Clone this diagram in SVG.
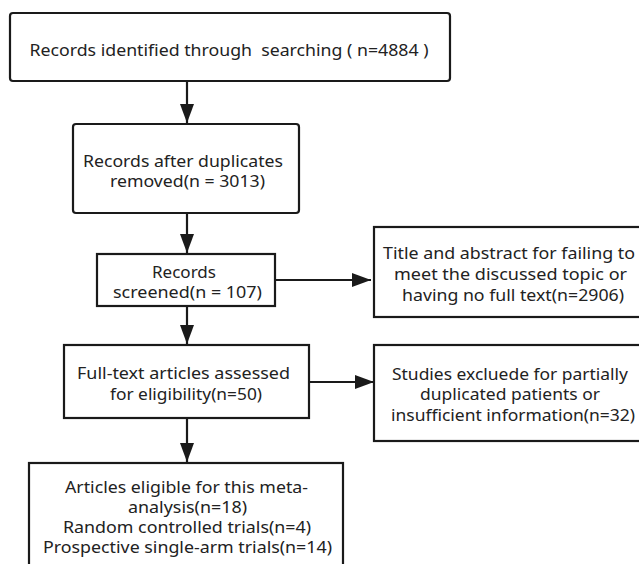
<svg xmlns="http://www.w3.org/2000/svg" width="639" height="564" viewBox="0 0 639 564">
<style>
.box{fill:#fff;stroke:#1a1a1a;stroke-width:2.2}
.t{font-family:"Noto Sans","Open Sans","DejaVu Sans",sans-serif;font-size:16px;fill:#222;text-anchor:middle;white-space:pre}
.c{stroke:#1a1a1a;stroke-width:2.2;fill:none}
</style>
<defs>
<marker id="ah" markerUnits="userSpaceOnUse" markerWidth="19" markerHeight="14" refX="19" refY="7" orient="auto">
<path d="M0,0 L19,7 L0,14 z" fill="#1a1a1a"/>
</marker>
</defs>
<rect width="639" height="564" fill="#fff"/>
<g id="connectors">
<line class="c" x1="187" y1="81" x2="187" y2="123" marker-end="url(#ah)"/>
<line class="c" x1="187" y1="213" x2="187" y2="253" marker-end="url(#ah)"/>
<line class="c" x1="187" y1="306" x2="187" y2="344" marker-end="url(#ah)"/>
<line class="c" x1="187" y1="418" x2="187" y2="462" marker-end="url(#ah)"/>
<line class="c" x1="275" y1="280" x2="371" y2="280" marker-end="url(#ah)"/>
<line class="c" x1="309" y1="382" x2="374" y2="382" marker-end="url(#ah)"/>
</g>
<g id="n1">
<rect class="box" x="10" y="13" width="440" height="68" rx="3"/>
<text class="t" x="229" y="56" textLength="399" lengthAdjust="spacingAndGlyphs">Records identified through  searching ( n=4884 )</text>
</g>
<g id="n2">
<rect class="box" x="73" y="124" width="226" height="89" rx="3"/>
<text class="t" x="183" y="167" textLength="200" lengthAdjust="spacingAndGlyphs">Records after duplicates</text>
<text class="t" x="187.5" y="187" textLength="155" lengthAdjust="spacingAndGlyphs">removed(n = 3013)</text>
</g>
<g id="n3">
<rect class="box" x="97" y="254" width="178" height="52"/>
<text class="t" x="184" y="278" textLength="64" lengthAdjust="spacingAndGlyphs">Records</text>
<text class="t" x="187.5" y="298" textLength="149" lengthAdjust="spacingAndGlyphs">screened(n = 107)</text>
</g>
<g id="n4">
<rect class="box" x="64" y="345" width="245" height="73"/>
<text class="t" x="183.5" y="379" textLength="213" lengthAdjust="spacingAndGlyphs">Full-text articles assessed</text>
<text class="t" x="186" y="400" textLength="152" lengthAdjust="spacingAndGlyphs">for eligibility(n=50)</text>
</g>
<g id="n5">
<rect class="box" x="374" y="227" width="275" height="90"/>
<text class="t" x="509" y="259" textLength="252" lengthAdjust="spacingAndGlyphs">Title and abstract for failing to</text>
<text class="t" x="510.5" y="280" textLength="233" lengthAdjust="spacingAndGlyphs">meet the discussed topic or</text>
<text class="t" x="513" y="301" textLength="222" lengthAdjust="spacingAndGlyphs">having no full text(n=2906)</text>
</g>
<g id="n6">
<rect class="box" x="374" y="345" width="275" height="96"/>
<text class="t" x="510" y="380" textLength="236" lengthAdjust="spacingAndGlyphs">Studies excluede for partially</text>
<text class="t" x="510" y="400" textLength="180" lengthAdjust="spacingAndGlyphs">duplicated patients or</text>
<text class="t" x="513" y="421" textLength="244" lengthAdjust="spacingAndGlyphs">insufficient information(n=32)</text>
</g>
<g id="n7">
<rect class="box" x="29" y="463" width="314" height="110"/>
<text class="t" x="186.5" y="493" textLength="243" lengthAdjust="spacingAndGlyphs">Articles eligible for this meta-</text>
<text class="t" x="187.5" y="513" textLength="119" lengthAdjust="spacingAndGlyphs">analysis(n=18)</text>
<text class="t" x="187" y="533" textLength="248" lengthAdjust="spacingAndGlyphs">Random controlled trials(n=4)</text>
<text class="t" x="187.5" y="553" textLength="289" lengthAdjust="spacingAndGlyphs">Prospective single-arm trials(n=14)</text>
</g>
</svg>
